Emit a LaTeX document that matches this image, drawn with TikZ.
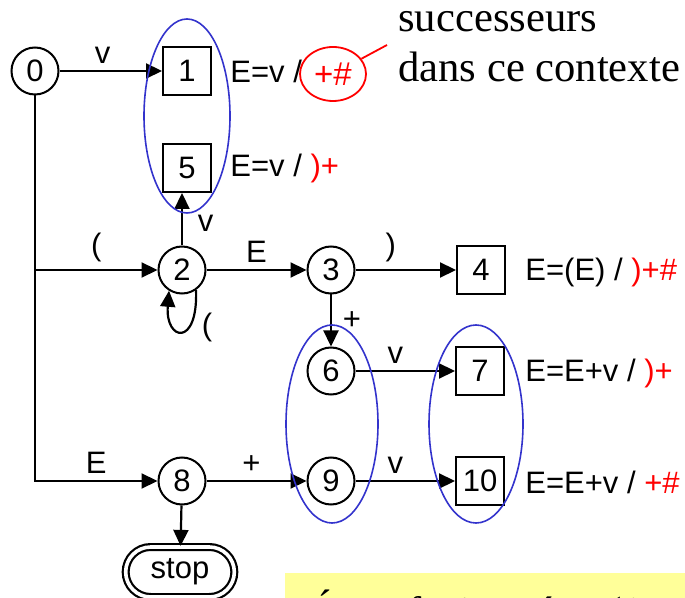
\documentclass[tikz,border=0pt]{standalone}
\usepackage{fontspec}
\setmainfont{Liberation Sans}
\newfontfamily\serif{Liberation Serif}
\usetikzlibrary{arrows.meta,shapes.geometric,shapes.misc}
\definecolor{ovalblue}{RGB}{51,51,204}
\definecolor{noteyellow}{RGB}{255,255,153}
\newcommand{\look}[1]{\textcolor{red}{#1}}

\begin{document}
\begin{tikzpicture}[
    x=0.5pt, y=0.5pt,
    every node/.style={font=\fontsize{15.5}{18}\selectfont},
    state/.style={circle,draw,line width=1pt,minimum size=23.5pt,inner sep=0pt},
    reduce/.style={rectangle,draw,line width=1pt,minimum size=24pt,inner sep=0pt},
    item/.style={anchor=west,inner sep=0pt},
    group/.style={draw=ovalblue,line width=0.8pt},
    trans/.style={-{Triangle[length=8pt,width=7.5pt]},line width=1.1pt}
  ]
  \useasboundingbox (0,0) rectangle (685,-598);

  % states and reductions
  \node[state]  (n0)  at (35,-71)   {0};
  \node[reduce] (n1)  at (187,-71)  {1};
  \node[reduce] (n5)  at (187,-168) {5};
  \node[state]  (n2)  at (182,-270) {2};
  \node[state]  (n3)  at (331,-270) {3};
  \node[reduce] (n4)  at (481,-270) {4};
  \node[state]  (n6)  at (331,-371) {6};
  \node[reduce] (n7)  at (480,-371) {7};
  \node[state]  (n8)  at (182,-481) {8};
  \node[state]  (n9)  at (331,-481) {9};
  \node[reduce] (n10) at (480,-481) {10};
  \node[rounded rectangle,draw,double,line width=1.1pt,double distance=1.8pt,
        minimum width=61pt,minimum height=25pt] (stop) at (180,-572) {stop};

  % transitions
  \draw[trans] (n0) -- node[above,pos=0.42] {v} (n1);
  \draw[trans] (n0 |- n2) -- node[above] {(} (n2);
  \draw[trans] (n0) |- node[above,pos=0.75] {E} (n8);
  \draw[trans] (n2) -- node[right,xshift=4pt,yshift=-2pt] {v} (n2 |- n5.south);
  \draw[trans] (n2) -- node[above] {E} (n3);
  \draw[trans] (n2.-55) .. controls +(2,-58) and +(-4,-50) .. (n2.-122);
  \node (loop) at (207,-327) {(};
  \draw[trans] (n3) -- node[above,pos=0.35] {)} (n4);
  \draw[trans] (n3) -- node[right,xshift=2pt] {+} (n6);
  \draw[trans] (n6) -- node[above,pos=0.4] {v} (n7);
  \draw[trans] (n8) -- node[above,pos=0.45] {+} (n9);
  \draw[trans] (n9) -- node[above,pos=0.4] {v} (n10);
  \draw[trans] (n8) -- (stop);

  % reductions with their lookahead
  \node[item] (r1)  at (230,-71)  {E=v /};
  \node[ellipse,draw=red,line width=0.9pt,text=red,inner sep=0pt,
        minimum width=33pt,minimum height=27pt,font=\fontsize{16.5}{19}\selectfont]
        (la1) at (333,-74) {+\#};
  \node[item] (r5)  at (230,-168) {E=v / \look{)+}};
  \node[item] (r4)  at (525,-272) {E=(E) / \look{)+\#}};
  \node[item] (r7)  at (525,-373) {E=E+v / \look{)+}};
  \node[item] (r10) at (525,-482) {E=E+v / \look{+\#}};

  % merged groups
  \draw[group] (187,-116) ellipse [x radius=43, y radius=97];
  \draw[group] (332,-424) ellipse [x radius=46, y radius=99];
  \draw[group] (476,-424) ellipse [x radius=47, y radius=99];

  % note on the lookahead
  \node[font=\serif\fontsize{21.3}{25}\selectfont,align=left,anchor=base west,
        inner sep=0pt] (succ) at (398,-82) {successeurs\\dans ce contexte};
  \coordinate (tip) at (387,-45);
  \draw[red,line width=0.9pt] (la1) -- (tip);

  \begin{scope}
    \clip (0,0) rectangle (685,-598);
    \node[fill=noteyellow,anchor=north west,inner xsep=11pt,inner ysep=0pt,
          text height=26.6pt,text depth=8pt,minimum width=220pt,align=left,
          font=\serif\fontsize{21.3}{25}\selectfont] (note) at (285,-573)
          {États fusionnés : (1, 5)};
  \end{scope}
\end{tikzpicture}
\end{document}
